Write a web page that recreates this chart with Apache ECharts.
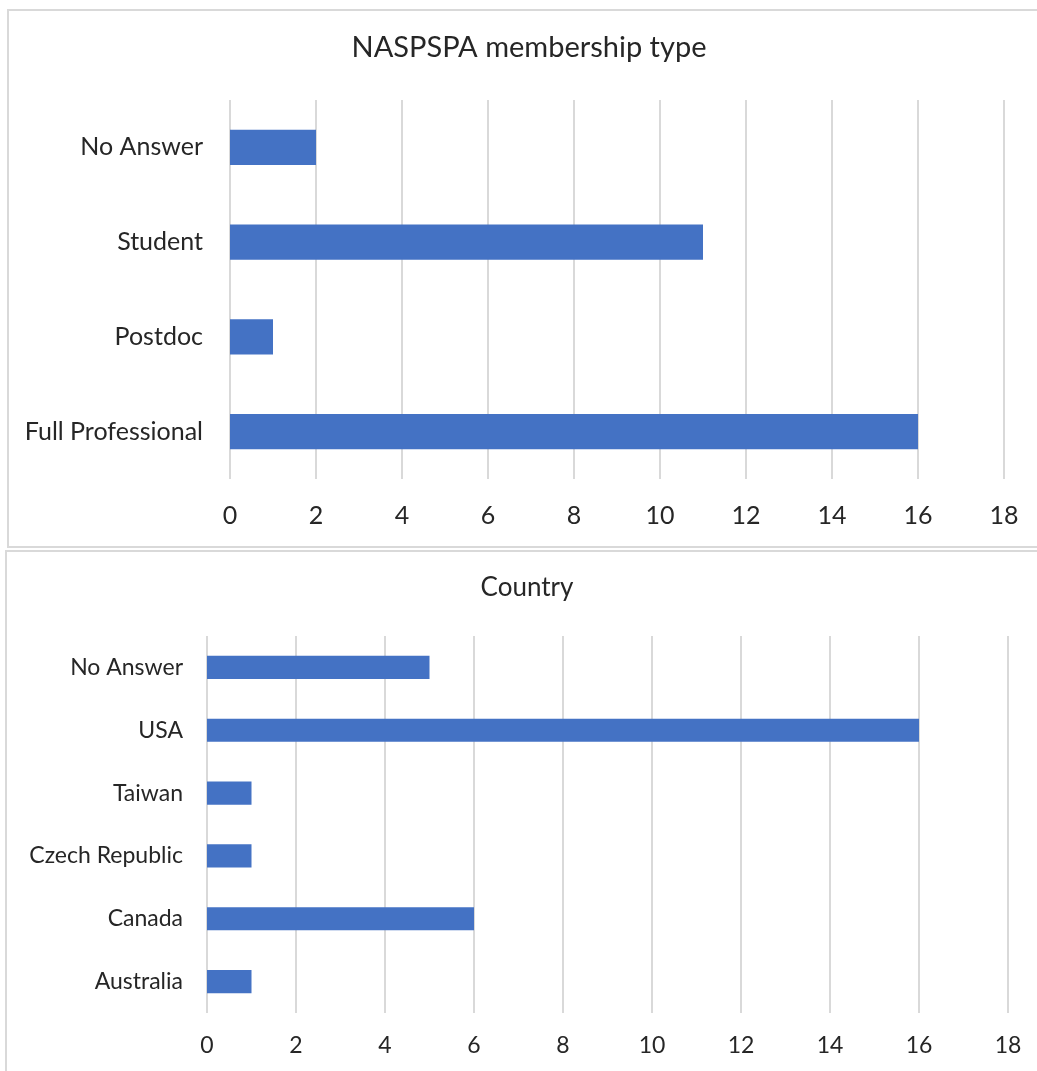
<!DOCTYPE html>
<html>
<head>
<meta charset="utf-8">
<script src="https://cdn.jsdelivr.net/npm/echarts@6/dist/echarts.min.js"></script>
<style>
  body { margin: 0; background: #fff; width: 1037px; height: 1071px; overflow: hidden; position: relative; }
  .box { position: absolute; border: 2px solid #d9d9d9; background: #fff; }
  #memberChart { left: 7px; top: 9px; width: 1040px; height: 535px; }
  #countryChart { left: 5px; top: 550px; width: 1040px; height: 540px; }
</style>
</head>
<body>
<div id="memberChart" class="box"></div>
<div id="countryChart" class="box"></div>
<script>
// membership chart (categories bottom -> top, as ECharts draws them)
const memberTypes = ['Full Professional', 'Postdoc', 'Student', 'No Answer'];
const memberCounts = [16, 1, 11, 2];

// country chart
const countries = ['Australia', 'Canada', 'Czech Republic', 'Taiwan', 'USA', 'No Answer'];
const countryCounts = [1, 6, 1, 1, 16, 5];

const xTicks = [0, 18, 2]; // min, max, interval

const FONT = 'Lato';
const TXT = '#262626';
const GRIDLINE = '#d9d9d9';
const BAR = '#4472C4';

function barOption(title, titleSize, labelSize, cats, vals, grid, xMargin, yMargin) {
  return {
    animation: false,
    textStyle: { fontFamily: FONT },
    title: {
      text: title,
      left: 'center',
      top: grid.titleTop,
      textStyle: { fontFamily: FONT, fontSize: titleSize, fontWeight: 'normal', color: TXT }
    },
    grid: { left: grid.left, top: grid.top, width: grid.width, height: grid.height },
    xAxis: {
      type: 'value',
      min: xTicks[0],
      max: xTicks[1],
      interval: xTicks[2],
      axisLine: { show: false },
      axisTick: { show: false },
      axisLabel: { fontFamily: FONT, fontSize: labelSize, color: TXT, margin: xMargin },
      splitLine: { lineStyle: { color: GRIDLINE, width: 2 } }
    },
    yAxis: {
      type: 'category',
      data: cats,
      axisLine: { show: false },
      axisTick: { show: false },
      axisLabel: { fontFamily: FONT, fontSize: labelSize, color: TXT, margin: yMargin }
    },
    series: [{
      type: 'bar',
      data: vals,
      barWidth: '37%',
      itemStyle: { color: BAR }
    }]
  };
}

let memberChart = echarts.init(document.getElementById('memberChart'));
memberChart.setOption(barOption('NASPSPA membership type', 29, 25, memberTypes, memberCounts,
  { left: 221, top: 89, width: 774, height: 379, titleTop: 17 }, 24, 27));

let countryChart = echarts.init(document.getElementById('countryChart'));
countryChart.setOption(barOption('Country', 26, 23, countries, countryCounts,
  { left: 200, top: 84, width: 801, height: 377, titleTop: 18 }, 21, 24));
</script>
</body>
</html>
